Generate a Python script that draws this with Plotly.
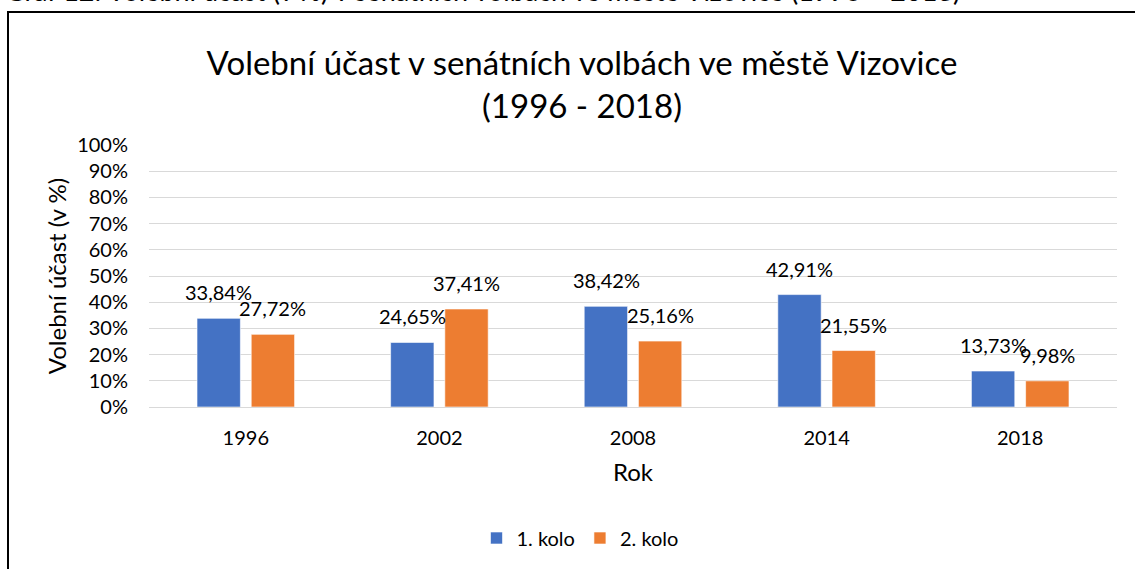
import plotly.graph_objects as go

years = ['1996', '2002', '2008', '2014', '2018']
kolo1 = [33.84, 24.65, 38.42, 42.91, 13.73]
kolo2 = [27.72, 37.41, 25.16, 21.55, 9.98]
series_names = ['1. kolo', '2. kolo']
colors = ['#4472C4', '#ED7D31']
y_ticks = list(range(0, 101, 10))

FONT = 'Lato'

# plot area in pixels (from the picture)
W, H = 1135, 569
L, R, T, B = 149, 1117, 145, 409


def px_x(p):
    return (p - L) / (R - L)


def px_y(p):
    return (B - p) / (B - T)


def fmt(v):
    return ('%.2f' % v).replace('.', ',') + '%'


fig = go.Figure()
for name, vals, c in zip(series_names, [kolo1, kolo2], colors):
    fig.add_trace(go.Bar(x=years, y=vals, name=name,
                         marker=dict(color=c, line=dict(color='rgba(255,255,255,0.6)', width=1))))

# data labels, Excel style (outside end, a bit above the bar)
# on a category axis annotations take the category index
ann = []
for i, vals in enumerate([kolo1, kolo2]):
    shift = -27 if i == 0 else 27
    for k, v in enumerate(vals):
        ann.append(dict(x=k, y=v, xref='x', yref='y', text=fmt(v), showarrow=False,
                        xshift=shift, yanchor='bottom', yshift=12,
                        font=dict(family=FONT, size=20, color='#000')))

# cropped caption at the very top (only its lower part shows, like in the source)
ann.append(dict(x=px_x(3), y=px_y(8), xref='paper', yref='paper', xanchor='left', yanchor='bottom',
                text='Graf 12: Volební účast (v %) v senátních volbách ve městě Vizovice (1996 – 2018)',
                showarrow=False, font=dict(family=FONT, size=27, color='#000')))

fig.update_layout(
    width=W, height=H,
    margin=dict(l=L, r=W - R, t=T, b=H - B, pad=0),
    paper_bgcolor='white', plot_bgcolor='white',
    barmode='group', bargap=0.44, bargroupgap=0.2,
    title=dict(text='Volební účast v senátních volbách ve městě Vizovice<br>(1996 - 2018)',
               xref='container', x=582 / W, xanchor='center',
               yref='container', y=1 - 75 / H, yanchor='middle',
               font=dict(family=FONT, size=33, color='#000')),
    font=dict(family=FONT, size=20, color='#000'),
    legend=dict(orientation='h', x=px_x(580), xanchor='center', y=px_y(541), yanchor='middle',
                font=dict(family=FONT, size=20), itemwidth=30, traceorder='normal'),
    annotations=ann,
    shapes=[dict(type='rect', xref='paper', yref='paper', x0=px_x(8), x1=px_x(1145),
                 y0=px_y(580), y1=px_y(11), line=dict(color='#000', width=2))],
)
fig.update_xaxes(type='category', range=[-0.5, len(years) - 0.5],
                 title=dict(text='Rok', font=dict(family=FONT, size=24), standoff=16),
                 showgrid=False, showline=False, ticks='', ticklabelstandoff=17,
                 tickfont=dict(size=20))
fig.update_yaxes(range=[0, 100], tickvals=y_ticks, ticktext=[f'{t}%' for t in y_ticks],
                 showgrid=True, gridcolor='#D9D9D9', gridwidth=1, zeroline=True,
                 zerolinecolor='#D9D9D9', zerolinewidth=1, ticks='', ticklabelstandoff=20,
                 title=dict(text='Volební účast (v %)', font=dict(family=FONT, size=24), standoff=3),
                 tickfont=dict(size=20))

# the page body has a default 8px margin; drop it so the figure starts at the corner
fig.write_html('out.html', config={'displayModeBar': False},
               post_script="document.body.style.margin='0px';")
